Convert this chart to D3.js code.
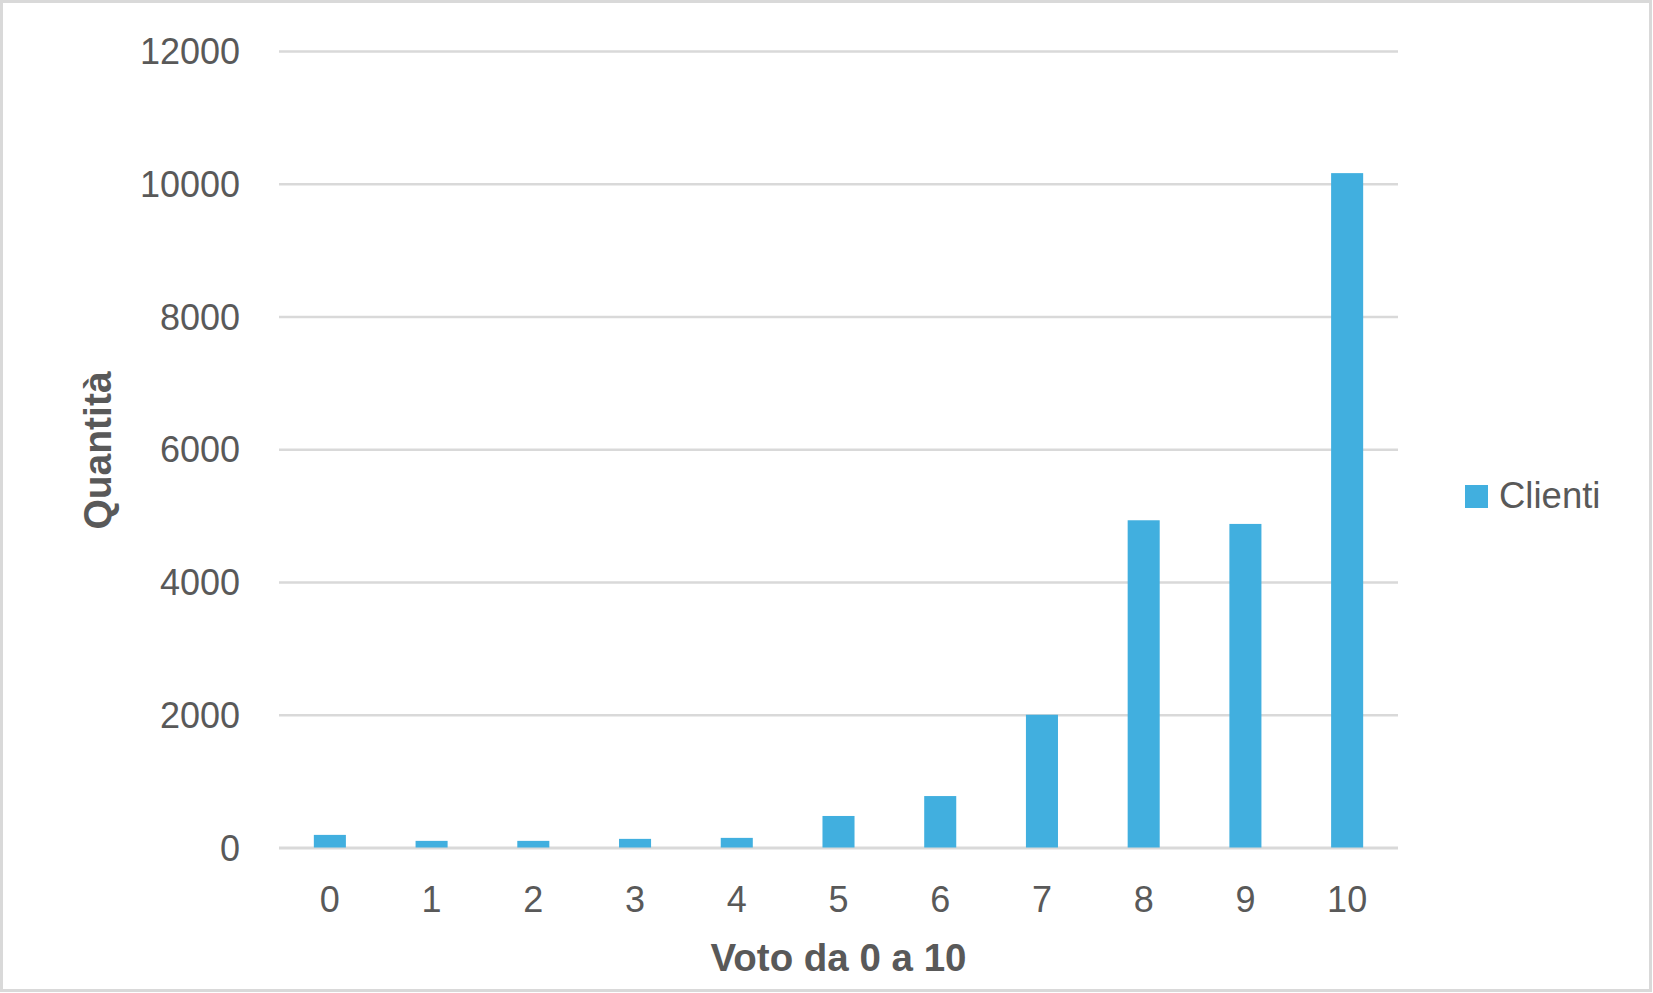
<!DOCTYPE html>
<html>
<head>
<meta charset="utf-8">
<script src="https://cdn.jsdelivr.net/npm/d3@7"></script>
<style>
  html, body { margin: 0; padding: 0; background: #ffffff; }
  svg { display: block; }
</style>
</head>
<body>
<svg id="chart" width="1653" height="993"></svg>
<script>
// ---- data ----
const categories = ["0", "1", "2", "3", "4", "5", "6", "7", "8", "9", "10"];
const clienti = [190, 100, 100, 130, 145, 475, 775, 2000, 4930, 4875, 10160];
const yTicks = [0, 2000, 4000, 6000, 8000, 10000, 12000];
const seriesName = "Clienti";
const xTitle = "Voto da 0 a 10";
const yTitle = "Quantità";

// ---- layout ----
const W = 1653, H = 993;
const plot = { left: 279, right: 1398, top: 51, bottom: 847.5 };
const textColor = "#595959";
const gridColor = "#d9d9d9";
const barColor = "#41afdf";
const font = "'Liberation Sans', Arial, sans-serif";

const svg = d3.select("#chart");

svg.append("rect")
  .attr("x", 1.5).attr("y", 1.5)
  .attr("width", W - 4).attr("height", H - 4)
  .attr("fill", "#ffffff")
  .attr("stroke", gridColor).attr("stroke-width", 3);

const x = d3.scaleBand()
  .domain(categories)
  .range([plot.left, plot.right])
  .paddingInner(0.685)
  .paddingOuter(0.3425);

const y = d3.scaleLinear()
  .domain([0, 12000])
  .range([plot.bottom, plot.top]);

// gridlines
const yAxis = d3.axisLeft(y)
  .tickValues(yTicks)
  .tickFormat(d3.format("d"))
  .tickSize(-(plot.right - plot.left))
  .tickPadding(39);
const gy = svg.append("g")
  .attr("transform", `translate(${plot.left},0)`)
  .call(yAxis);
gy.select(".domain").remove();
gy.selectAll(".tick line")
  .attr("stroke", gridColor)
  .attr("stroke-width", d => d === 0 ? 3 : 2.5);
gy.selectAll(".tick text")
  .attr("fill", textColor)
  .attr("font-family", font)
  .attr("font-size", "36px")
  .attr("dy", "0.35em");

// bars
svg.append("g")
  .selectAll("rect")
  .data(clienti)
  .join("rect")
  .attr("x", (d, i) => x(categories[i]))
  .attr("width", x.bandwidth())
  .attr("y", d => y(d))
  .attr("height", d => y(0) - y(d))
  .attr("fill", barColor);

// x axis labels
const xAxis = d3.axisBottom(x).tickSize(0);
const gx = svg.append("g")
  .attr("transform", `translate(0,${plot.bottom})`)
  .call(xAxis);
gx.select(".domain").remove();
gx.selectAll(".tick text")
  .attr("fill", textColor)
  .attr("font-family", font)
  .attr("font-size", "36px")
  .attr("dy", "0.35em")
  .attr("y", 52);

// axis titles
svg.append("text")
  .attr("x", (plot.left + plot.right) / 2)
  .attr("y", 971)
  .attr("text-anchor", "middle")
  .attr("font-family", font)
  .attr("font-weight", "bold")
  .attr("font-size", "38.5px")
  .attr("fill", textColor)
  .text(xTitle);

svg.append("text")
  .attr("transform", `translate(111,${450.5}) rotate(-90)`)
  .attr("text-anchor", "middle")
  .attr("font-family", font)
  .attr("font-weight", "bold")
  .attr("font-size", "39px")
  .attr("fill", textColor)
  .text(yTitle);

// legend
const lg = svg.append("g").attr("transform", "translate(1465,485)");
lg.append("rect")
  .attr("width", 23).attr("height", 23)
  .attr("fill", barColor);
lg.append("text")
  .attr("x", 34).attr("y", 22.5)
  .attr("font-family", font)
  .attr("font-size", "36.5px")
  .attr("fill", textColor)
  .text(seriesName);
</script>
</body>
</html>
